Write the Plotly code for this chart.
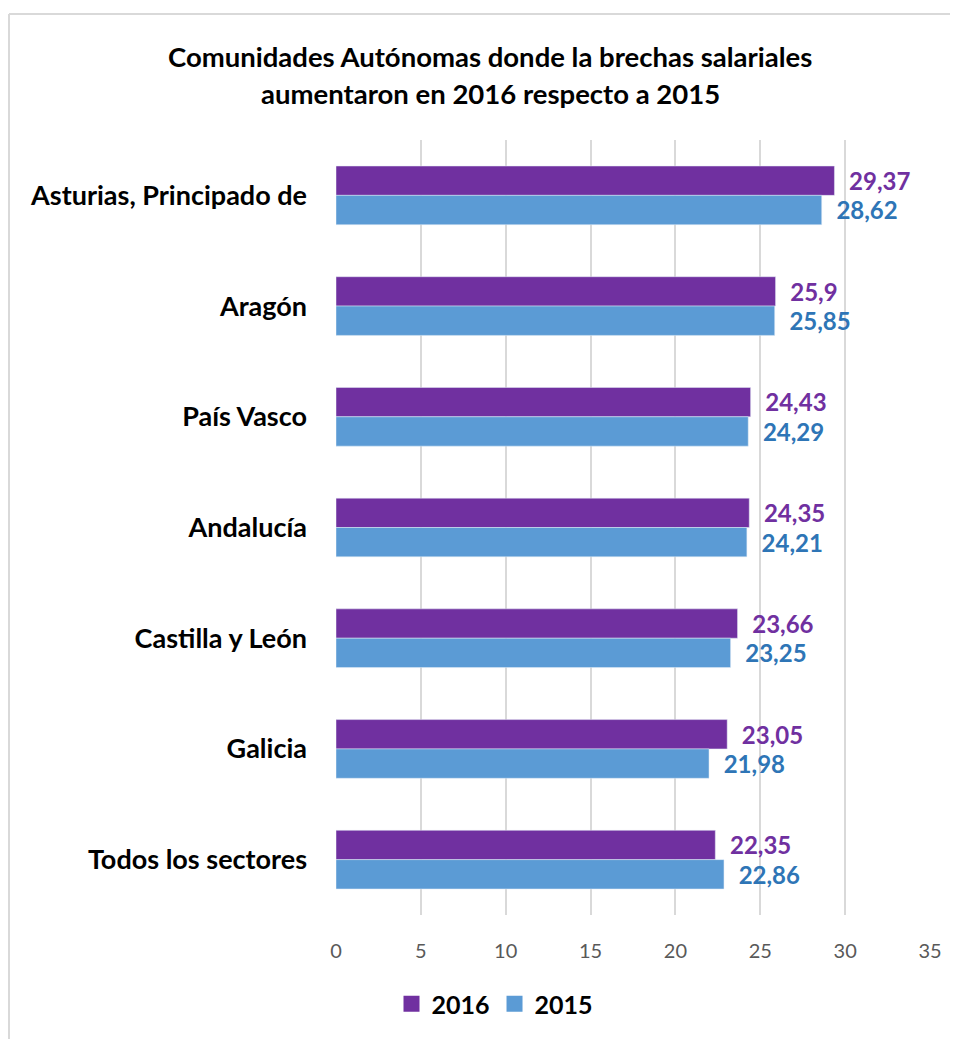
import plotly.graph_objects as go

# Data
regions = ['Asturias, Principado de', 'Aragón', 'País Vasco', 'Andalucía',
           'Castilla y León', 'Galicia', 'Todos los sectores']
values_2016 = [29.37, 25.9, 24.43, 24.35, 23.66, 23.05, 22.35]
values_2015 = [28.62, 25.85, 24.29, 24.21, 23.25, 21.98, 22.86]
x_ticks = [0, 5, 10, 15, 20, 25, 30, 35]

title_lines = ['Comunidades Autónomas donde la brechas salariales',
               'aumentaron en 2016 respecto a 2015']

# the page body has an 8px margin, so the figure is shifted by OFF
OFF = 8
W, H = 958 - OFF, 1039 - OFF
L, R, T, B = 336 - OFF, 28, 140 - OFF, 124
FONT = 'Lato'
PURPLE = '#7030A0'
BLUE = '#5B9BD5'


def label(v):
    # decimal comma, small padding after the bar end
    return '\u00a0\u00a0' + str(v).replace('.', ',')


fig = go.Figure()

fig.add_trace(
    go.Bar(
        y=regions,
        x=values_2016,
        orientation='h',
        name='2016',
        marker=dict(color=PURPLE),
        text=[label(v) for v in values_2016],
        textposition='outside',
        textfont=dict(family=FONT, size=27, color=PURPLE, weight='bold'),
        cliponaxis=False,
        showlegend=False,
    )
)

fig.add_trace(
    go.Bar(
        y=regions,
        x=values_2015,
        orientation='h',
        name='2015',
        marker=dict(color=BLUE),
        text=[label(v) for v in values_2015],
        textposition='outside',
        textfont=dict(family=FONT, size=27, color='#2E75B6', weight='bold'),
        cliponaxis=False,
        showlegend=False,
    )
)

# legend entries with bigger square swatches
for name, color in [('2016', PURPLE), ('2015', BLUE)]:
    fig.add_trace(
        go.Scatter(
            x=[None], y=[None],
            mode='markers',
            name=name,
            marker=dict(symbol='square', size=16, color=color),
            showlegend=True,
        )
    )

# paper coordinates from page pixels
plot_w = W - L - R
plot_h = H - T - B


def px_x(px):
    return (px - OFF - L) / plot_w


def px_y(py):
    return (H - B - (py - OFF)) / plot_h


# title as two annotations
annotations = []
for i, line in enumerate(title_lines):
    annotations.append(dict(
        text=line, xref='paper', yref='paper',
        x=px_x(490), y=px_y(57 + 36 * i),
        xanchor='center', yanchor='middle', showarrow=False,
        font=dict(family=FONT, size=27.5, color='#000000', weight='bold'),
    ))

# chart border (top and left edges visible in the reference)
shapes = [
    dict(type='line', xref='paper', yref='paper',
         x0=px_x(9), x1=px_x(9), y0=px_y(1050), y1=px_y(14),
         line=dict(color='#D9D9D9', width=2)),
    dict(type='line', xref='paper', yref='paper',
         x0=px_x(9), x1=px_x(970), y0=px_y(14), y1=px_y(14),
         line=dict(color='#D9D9D9', width=2)),
]

fig.update_layout(
    width=W,
    height=H,
    margin=dict(l=L, r=R, t=T, b=B),
    paper_bgcolor='white',
    plot_bgcolor='white',
    barmode='group',
    bargap=0.47,
    bargroupgap=0,
    annotations=annotations,
    shapes=shapes,
    xaxis=dict(
        range=[0, 35],
        tickvals=x_ticks,
        showgrid=True,
        gridcolor='#D9D9D9',
        gridwidth=1.5,
        zeroline=False,
        showline=False,
        ticks='',
        ticklabelstandoff=22,
        tickfont=dict(family=FONT, size=20, color='#595959'),
        fixedrange=True,
    ),
    yaxis=dict(
        autorange='reversed',
        showgrid=False,
        zeroline=False,
        showline=False,
        ticks='',
        ticklabelstandoff=28,
        tickfont=dict(family=FONT, size=27, color='#000000', weight='bold'),
    ),
    showlegend=True,
    legend=dict(
        orientation='h',
        x=px_x(495), y=px_y(1004),
        xanchor='center', yanchor='middle',
        font=dict(family=FONT, size=25, color='#000000', weight='bold'),
        traceorder='normal',
        itemwidth=30,
    ),
)

fig.write_html("out.html")
